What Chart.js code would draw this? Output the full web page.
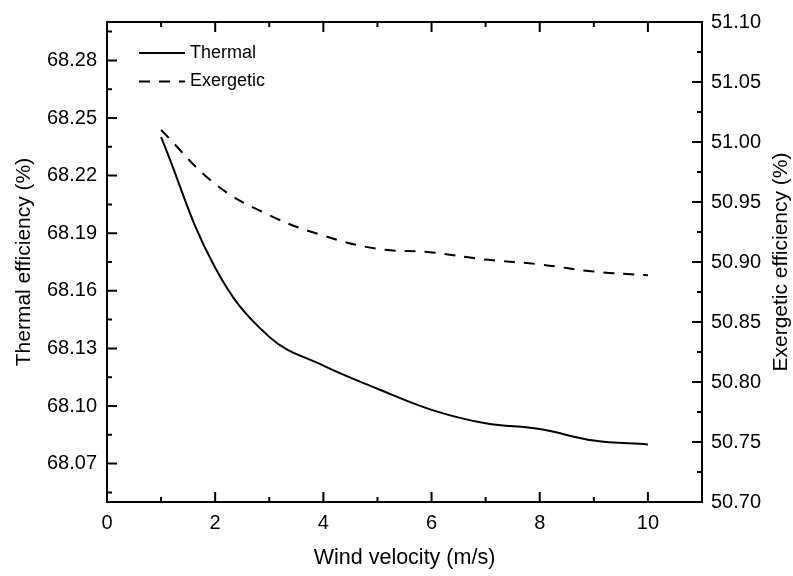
<!DOCTYPE html>
<html>
<head>
<meta charset="utf-8">
<script src="https://cdn.jsdelivr.net/npm/chart.js@4.4.0/dist/chart.umd.min.js"></script>
<style>
  html, body { margin: 0; padding: 0; background: #fff; }
  #wrap { width: 793px; height: 576px; }
</style>
</head>
<body>
<div id="wrap"><canvas id="chart" width="793" height="576"></canvas></div>
<script>
// wind velocity (m/s)
const windSpeed = [1, 2, 3, 4, 5, 6, 7, 8, 9, 10];
// thermal efficiency (%) - left axis
const thermalEff = [68.240, 68.172, 68.136, 68.121, 68.109, 68.098, 68.091, 68.088, 68.082, 68.080];
// exergetic efficiency (%) - right axis
const exergeticEff = [51.010, 50.965, 50.939, 50.922, 50.911, 50.908, 50.902, 50.898, 50.892, 50.889];

const xTicks = [0, 2, 4, 6, 8, 10];
const leftTicks = [68.07, 68.10, 68.13, 68.16, 68.19, 68.22, 68.25, 68.28];
const rightTicks = [50.70, 50.75, 50.80, 50.85, 50.90, 50.95, 51.00, 51.05, 51.10];

const FONT = "'Liberation Sans', Arial, sans-serif";

// half-way ticks between the labelled ones, kept inside the axis range
function minorOf(ticks, min, max) {
  const step = ticks[1] - ticks[0];
  const out = [];
  for (let v = ticks[0] - step / 2; v < max + 1e-9; v += step) {
    if (v > min + 1e-9 && v < max - 1e-9) out.push(v);
  }
  return out;
}

const frame = {
  id: 'frame',
  afterDraw(chart) {
    const { ctx, chartArea: a, scales } = chart;
    ctx.save();
    ctx.strokeStyle = '#000';
    ctx.lineWidth = 2;
    ctx.setLineDash([]);
    ctx.strokeRect(a.left, a.top, a.right - a.left, a.bottom - a.top);

    ctx.beginPath();
    const seg = (x1, y1, x2, y2) => { ctx.moveTo(x1, y1); ctx.lineTo(x2, y2); };
    const xs = scales.x, yl = scales.y, yr = scales.y2;
    xTicks.forEach(v => { const p = xs.getPixelForValue(v); seg(p, a.bottom, p, a.bottom - 10); seg(p, a.top, p, a.top + 10); });
    minorOf(xTicks, xs.min, xs.max).forEach(v => { const p = xs.getPixelForValue(v); seg(p, a.bottom, p, a.bottom - 5); seg(p, a.top, p, a.top + 5); });
    leftTicks.forEach(v => { const p = yl.getPixelForValue(v); seg(a.left, p, a.left + 10, p); });
    minorOf(leftTicks, yl.min, yl.max).forEach(v => { const p = yl.getPixelForValue(v); seg(a.left, p, a.left + 5, p); });
    rightTicks.forEach(v => { const p = yr.getPixelForValue(v); seg(a.right, p, a.right - 10, p); });
    minorOf(rightTicks, yr.min, yr.max).forEach(v => { const p = yr.getPixelForValue(v); seg(a.right, p, a.right - 5, p); });
    ctx.stroke();

    // right axis title reads bottom to top, like the left one
    ctx.fillStyle = '#000';
    ctx.font = '21px ' + FONT;
    ctx.textAlign = 'center';
    ctx.textBaseline = 'middle';
    ctx.translate(781, (a.top + a.bottom) / 2);
    ctx.rotate(-Math.PI / 2);
    ctx.fillText('Exergetic efficiency (%)', 0, 0);
    ctx.restore();

    // legend
    ctx.save();
    ctx.font = '18px ' + FONT;
    ctx.textBaseline = 'middle';
    ctx.fillStyle = '#000';
    chart.data.datasets.forEach((ds, i) => {
      const y = 53 + i * 28.5;
      ctx.strokeStyle = '#000';
      ctx.lineWidth = 2;
      ctx.setLineDash(ds.borderDash || []);
      ctx.beginPath();
      ctx.moveTo(139, y);
      ctx.lineTo(185, y);
      ctx.stroke();
      ctx.fillText(ds.label, 190, y);
    });
    ctx.restore();
  }
};

const tickFont = { family: FONT, size: 20 };

new Chart(document.getElementById('chart'), {
  type: 'line',
  data: {
    datasets: [
      {
        label: 'Thermal',
        data: windSpeed.map((x, i) => ({ x, y: thermalEff[i] })),
        yAxisID: 'y',
        borderColor: '#000',
        borderWidth: 2,
        pointRadius: 0,
        tension: 0.4,
        fill: false
      },
      {
        label: 'Exergetic',
        data: windSpeed.map((x, i) => ({ x, y: exergeticEff[i] })),
        yAxisID: 'y2',
        borderColor: '#000',
        borderWidth: 2,
        borderDash: [11, 9],
        pointRadius: 0,
        tension: 0.4,
        fill: false
      }
    ]
  },
  options: {
    responsive: false,
    animation: false,
    layout: { padding: { top: 15, left: 0, right: 0, bottom: 0 } },
    plugins: { legend: { display: false }, tooltip: { enabled: false } },
    scales: {
      x: {
        type: 'linear',
        position: 'bottom',
        min: 0,
        max: 11,
        afterBuildTicks: s => { s.ticks = xTicks.map(v => ({ value: v })); },
        afterFit: s => { s.height = 74; },
        ticks: { font: tickFont, color: '#000', padding: 9, maxRotation: 0 },
        grid: { display: false, drawTicks: false },
        border: { display: false },
        title: {
          display: true,
          text: 'Wind velocity (m/s)',
          color: '#000',
          font: { family: FONT, size: 21.5, lineHeight: 1.2 },
          padding: { top: 0, bottom: 5 }
        }
      },
      y: {
        type: 'linear',
        position: 'left',
        min: 68.05,
        max: 68.30,
        afterBuildTicks: s => { s.ticks = leftTicks.map(v => ({ value: v })); },
        afterFit: s => { s.width = 107; },
        ticks: { font: tickFont, color: '#000', padding: 10, callback: v => v.toFixed(2) },
        grid: { display: false, drawTicks: false },
        border: { display: false },
        title: {
          display: true,
          text: 'Thermal efficiency (%)',
          color: '#000',
          font: { family: FONT, size: 21, lineHeight: 1.2 },
          padding: { top: 12, bottom: 0 }
        }
      },
      y2: {
        type: 'linear',
        position: 'right',
        min: 50.70,
        max: 51.10,
        afterBuildTicks: s => { s.ticks = rightTicks.map(v => ({ value: v })); },
        afterFit: s => { s.width = 91; },
        ticks: { font: tickFont, color: '#000', padding: 9, callback: v => v.toFixed(2) },
        grid: { display: false, drawTicks: false },
        border: { display: false }
      }
    }
  },
  plugins: [frame]
});
</script>
</body>
</html>
